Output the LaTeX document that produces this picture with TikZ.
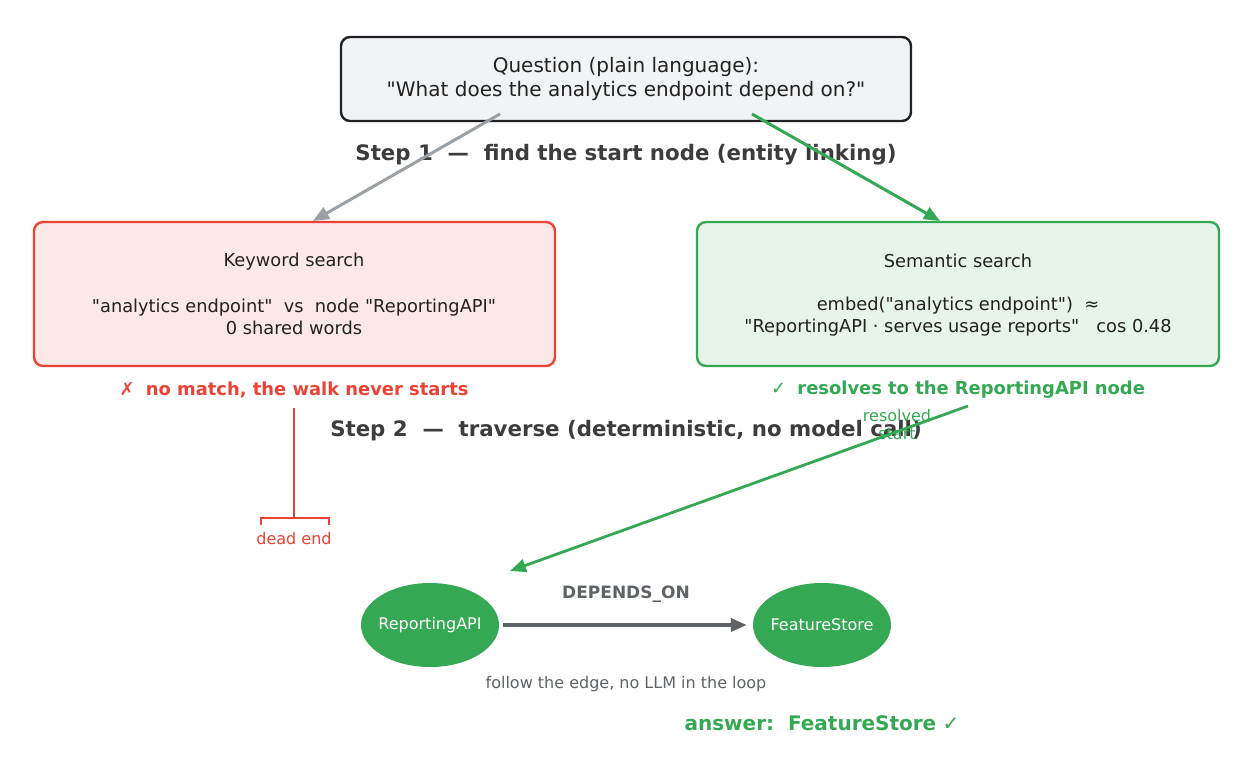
\documentclass[tikz,border=0pt]{standalone}
\usepackage{fontspec}
\setmainfont[Ligatures=TeXOff]{DejaVu Sans}
\usetikzlibrary{arrows.meta,shapes.geometric}
\definecolor{gred}{HTML}{EA4335}
\definecolor{ggreen}{HTML}{34A853}
\definecolor{ggray}{HTML}{9AA0A6}
\definecolor{gdark}{HTML}{5F6368}
\definecolor{redfill}{HTML}{FCE8E6}
\definecolor{greenfill}{HTML}{E6F4EA}
\definecolor{qfill}{HTML}{F1F3F4}
\definecolor{qborder}{HTML}{202124}
\definecolor{txt}{HTML}{222222}
\definecolor{steptxt}{HTML}{3C3C3C}
\tikzset{
  box/.style={rounded corners=9pt, line width=2.4pt},
  bodytext/.style={font=\fontsize{17.8}{22}\selectfont, text=txt, align=center},
  steplbl/.style={font=\fontsize{21.3}{25}\selectfont\bfseries, text=steptxt},
  graphnode/.style={ellipse, fill=ggreen, minimum width=138pt, minimum height=84pt, inner xsep=-4pt, inner ysep=0pt, text=white, font=\fontsize{16}{18}\selectfont},
  arr/.style={line width=3pt, -{Triangle[length=16pt,width=13pt]}},
}
\begin{document}
\begin{tikzpicture}[x=1pt,y=-1pt]
\useasboundingbox (0,0) rectangle (1256,784);
\fill[white] (0,0) rectangle (1256,784);

% boxes
\draw[box, fill=qfill, draw=qborder] (341,37) rectangle (911,121);
\node[font=\fontsize{20}{24}\selectfont, text=txt, align=center] (q) at (626,79) {Question (plain language):\\"What does the analytics endpoint depend on?"};

\draw[box, fill=redfill, draw=gred] (34,222) rectangle (555,366);
\node[bodytext] (kwt) at (294,262) {Keyword search};
\node[bodytext] (kwb) at (294,317) {"analytics endpoint"\ \ vs\ \ node "ReportingAPI"\\0 shared words};

\draw[box, fill=greenfill, draw=ggreen] (697,222) rectangle (1219,366);
\node[bodytext] (smt) at (958,261) {Semantic search};
\node[bodytext] (smb) at (958,317) {embed("analytics endpoint")\ \ ≈\\"ReportingAPI · serves usage reports"\ \ \ cos 0.48};

% step labels
\node[steplbl] (s1) at (626,155) {Step 1\ \ —\ \ find the start node (entity linking)};
\node[steplbl] (s2) at (626,431) {Step 2\ \ —\ \ traverse (deterministic, no model call)};

% arrows from question
\coordinate (qa) at (500,114);
\coordinate (kwtop) at (313,221);
\coordinate (qb) at (752,114);
\coordinate (smtop) at (940,221);
\draw[arr, ggray] (qa) -- (kwtop);
\draw[arr, ggreen] (qb) -- (smtop);

% result labels
\node[font=\fontsize{17.9}{20}\selectfont, text=gred] (nm) at (294,390) {✗\ \ \textbf{no match, the walk never starts}};
\node[font=\fontsize{17.9}{20}\selectfont, text=ggreen] (rs) at (958,390) {✓\ \ \textbf{resolves to the ReportingAPI node}};

% dead end
\coordinate (de1) at (294,408);
\coordinate (de2) at (294,518);
\draw[gred, line width=2pt] (de1) -- (de2);
\draw[gred, line width=2pt] (261,525) -- (261,518) -- (329,518) -- (329,525);
\node[font=\fontsize{16}{18}\selectfont, text=gred] (dead) at (294,539) {dead end};

% graph nodes
\node[graphnode] (rapi) at (430,625) {ReportingAPI};
\node[graphnode] (fs) at (822,625) {FeatureStore};

% resolved start arrow
\coordinate (rsA) at (968,406);
\coordinate (rsB) at (510,571);
\draw[arr, ggreen, line width=2.8pt] (rsA) -- (rsB);
\node[font=\fontsize{16}{18}\selectfont, text=ggreen, align=center] (rst) at (897,425) {resolved\\start};

% edge
\draw[arr, gdark, line width=3.6pt] ([xshift=4pt]rapi.east) -- ([xshift=-6pt]fs.west);
\node[font=\fontsize{17}{20}\selectfont\bfseries, text=gdark] (dep) at (626,594) {DEPENDS\_ON};
\node[font=\fontsize{16}{18}\selectfont, text=gdark] (fol) at (626,684) {follow the edge, no LLM in the loop};

\node[font=\fontsize{20}{24}\selectfont, text=ggreen] (ans) at (822,723) {\textbf{answer:\ \ FeatureStore} ✓};
\end{tikzpicture}
\end{document}
